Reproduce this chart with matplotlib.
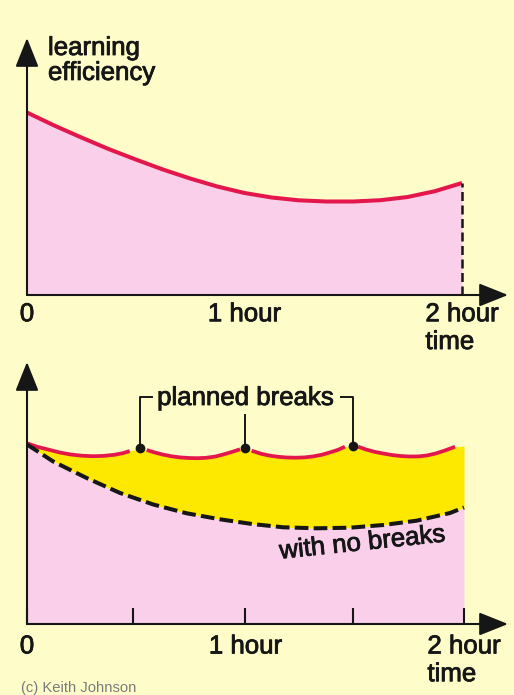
import matplotlib
matplotlib.use("Agg")
import matplotlib.pyplot as plt
import matplotlib.patheffects as pe
import numpy as np

# ---------------- data ----------------
# top chart: learning efficiency without breaks (hours, arbitrary units)
top_hours = [0, 0.125, 0.25, 0.375, 0.5, 0.625, 0.75, 0.875, 1.0,
             1.125, 1.25, 1.375, 1.5, 1.625, 1.75, 1.875, 2.0]
top_eff = [182.5, 169.5, 157.5, 146, 135.5, 125.5, 116.5, 108.5, 102,
           97.5, 94.7, 93.5, 93.5, 94.8, 98, 103.8, 112]

# bottom chart: no breaks (dashed)
nb_hours = [0, 0.12, 0.273, 0.426, 0.578, 0.731, 0.883, 1.03, 1.173,
            1.326, 1.478, 1.631, 1.783, 1.936, 2.0]
nb_eff = [179.5, 162.5, 146, 131, 119.5, 110.7, 104.7, 100, 96.7,
          95.7, 96.3, 99, 103.3, 111, 116.5]

# bottom chart: with planned breaks (scalloped red segments)
seg_hours = [
    [0, 0.05, 0.1, 0.15, 0.2, 0.25, 0.3, 0.35, 0.4, 0.44, 0.47],
    [0.548, 0.58, 0.62, 0.66, 0.7, 0.74, 0.78, 0.82, 0.86, 0.9, 0.94, 0.975],
    [1.028, 1.07, 1.11, 1.15, 1.19, 1.23, 1.27, 1.31, 1.35, 1.39, 1.425, 1.455],
    [1.516, 1.55, 1.59, 1.63, 1.67, 1.71, 1.75, 1.79, 1.83, 1.87, 1.91, 1.94, 1.959],
]
seg_eff = [
    [180.7, 177, 174.3, 171.5, 169.5, 168.3, 167.8, 168.1, 169.2, 170.9, 173],
    [174, 171.8, 169.5, 167.8, 166.6, 166, 165.8, 166.2, 167.4, 169.6, 172.2, 174.7],
    [173.3, 170.3, 168.4, 167.2, 166.5, 166.3, 166.6, 167.6, 169.3, 171.8, 174.3, 177.3],
    [177.3, 174.6, 172.2, 170.5, 169, 168, 167.5, 167.6, 168.5, 170.5, 173.3, 175.7, 177.3],
]
break_hours = [0.515, 1.0, 1.49]
break_eff = [175.7, 175.7, 178]
end_hour, end_eff = 2.0, 178

top_tick_pos = [0, 1, 2]
top_tick_labels = ["0", "1 hour", "2 hour\ntime"]
bot_tick_pos = [0, 0.485, 1, 1.49, 2]
bot_tick_labels = ["0", "", "1 hour", "", "2 hour\ntime"]

# ---------------- style ----------------
BG = "#fefdca"
PINK = "#f9cfea"
YELLOW = "#fde800"
RED = "#e3174b"
INK = "#161616"
FONT = "Liberation Sans"
FS = 18.6
BOLDEN = [pe.withStroke(linewidth=0.6, foreground=INK)]

W, H = 514, 695
fig = plt.figure(figsize=(W / 100, H / 100), dpi=100, facecolor=BG)


def px_axes(left, right, top, bottom):
    return fig.add_axes([left / W, 1 - bottom / H, (right - left) / W, (bottom - top) / H])


def arrows(ax):
    kw = dict(arrowstyle="-|>,head_length=0.9,head_width=0.36", mutation_scale=20,
              color=INK, lw=1.5, shrinkA=0, shrinkB=0)
    ax.annotate("", xy=(1, 0), xytext=(0, 0), xycoords="axes fraction",
                textcoords="axes fraction", arrowprops=kw, annotation_clip=False)
    ax.annotate("", xy=(0, 1), xytext=(0, 0), xycoords="axes fraction",
                textcoords="axes fraction", arrowprops=kw, annotation_clip=False)


def style(ax, xmax, ymax):
    ax.set_facecolor("none")
    ax.set_xlim(0, xmax)
    ax.set_ylim(0, ymax)
    for s in ax.spines.values():
        s.set_visible(False)
    ax.set_yticks([])


def style_ticklabels(ax):
    for lab in ax.get_xticklabels():
        lab.set_fontfamily(FONT)
        lab.set_multialignment("left")
        lab.set_path_effects(BOLDEN)


# ---------------- top chart ----------------
ax1 = px_axes(27, 508, 38, 295)
style(ax1, 2.2115, 257)
ax1.fill_between(top_hours, 0, top_eff, color=PINK, lw=0)
ax1.plot(top_hours, top_eff, color=RED, lw=2.9, solid_capstyle="butt",
         solid_joinstyle="round")
ax1.plot([top_hours[-1], top_hours[-1]], [0, top_eff[-1]], color=INK, lw=1.8,
         linestyle=(0, (3.6, 1.8)))
ax1.set_xticks(top_tick_pos, top_tick_labels)
ax1.tick_params(axis="x", length=0, pad=5.2, labelsize=FS, labelcolor=INK)
style_ticklabels(ax1)
arrows(ax1)

fig.text(48 / W, 1 - 36 / H, "learning\nefficiency", fontsize=FS, family=FONT,
         color=INK, ha="left", va="top", linespacing=1.05, path_effects=BOLDEN)

# ---------------- bottom chart ----------------
ax2 = px_axes(27, 508, 362, 624)
style(ax2, 2.2014, 262)

top_h = np.concatenate([np.concatenate([np.asarray(h, float) for h in seg_hours]),
                        break_hours, [end_hour]])
top_e = np.concatenate([np.concatenate([np.asarray(e, float) for e in seg_eff]),
                        break_eff, [end_eff]])
order = np.argsort(top_h)
top_h, top_e = top_h[order], top_e[order]
nb_on_top = np.interp(top_h, nb_hours, nb_eff)

ax2.fill_between(nb_hours, 0, nb_eff, color=PINK, lw=0)
ax2.fill_between(top_h, nb_on_top, top_e, color=YELLOW, lw=0)
for h, e in zip(seg_hours, seg_eff):
    ax2.plot(h, e, color=RED, lw=2.7, solid_capstyle="butt", solid_joinstyle="round")
ax2.plot(nb_hours, nb_eff, color=INK, lw=2.9, linestyle=(0, (3.4, 1.3)),
         dash_capstyle="butt")
ax2.plot(break_hours, break_eff, "o", color=INK, ms=6, zorder=5)

# bracket for "planned breaks"
bracket_top = 227
ax2.plot([break_hours[0], break_hours[0], break_hours[0] + 0.055],
         [break_eff[0], bracket_top, bracket_top], color=INK, lw=1.4)
ax2.plot([break_hours[2], break_hours[2], break_hours[2] - 0.055],
         [break_eff[2], bracket_top, bracket_top], color=INK, lw=1.4)
ax2.plot([break_hours[1], break_hours[1]], [break_eff[1], 209], color=INK, lw=1.4)
ax2.text(break_hours[1], 219, "planned breaks", fontsize=FS, family=FONT,
         color=INK, ha="center", va="baseline", path_effects=BOLDEN)
ax2.text(1.535, 81, "with no breaks", fontsize=FS, family=FONT, color=INK,
         ha="center", va="center", rotation=6, path_effects=BOLDEN)

ax2.set_xticks(bot_tick_pos, bot_tick_labels)
ax2.tick_params(axis="x", direction="in", length=11.5, width=1.5, color=INK,
                pad=7.5, labelsize=FS, labelcolor=INK)
style_ticklabels(ax2)
arrows(ax2)

fig.text(21 / W, 1 - 692 / H, "(c) Keith Johnson", fontsize=10.6, family=FONT,
         color="#7a7a7a", ha="left", va="baseline")

fig.savefig("out.png", dpi=100, facecolor=BG)
